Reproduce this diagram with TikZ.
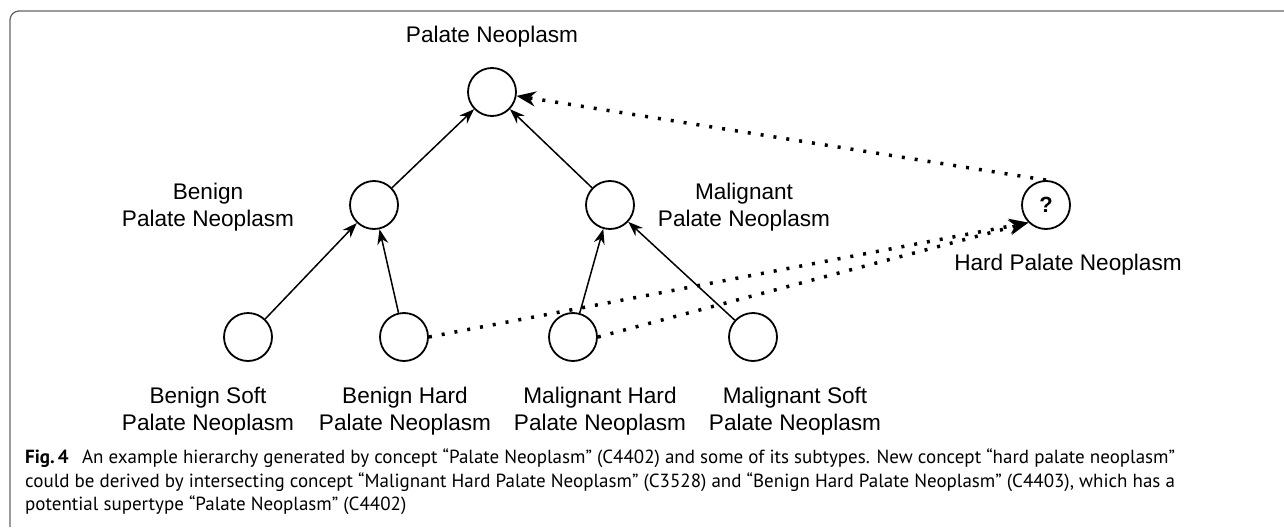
\documentclass[tikz,border=0pt]{standalone}
\usepackage{fontspec}
\setmainfont{Liberation Sans}
\newfontfamily\capfont{PT Sans}
\usetikzlibrary{arrows.meta}
\begin{document}
\begin{tikzpicture}[x=1pt,y=-1pt,
  concept/.style={circle, draw, line width=1.8pt, minimum size=48pt, inner sep=0pt},
  lbl/.style={font=\fontsize{22.6}{27}\selectfont, align=center, inner sep=0pt},
  isa/.style={line width=1.5pt, -{Stealth[length=15pt,width=11pt]}},
  cand/.style={line width=3.5pt, dash pattern=on 3pt off 10pt, -{Stealth[length=19pt,width=15pt]}},
  capline/.style={font=\capfont\fontsize{19}{23}\selectfont, anchor=base west, inner sep=0pt}]
\useasboundingbox (0,0) rectangle (1284,527);
% frame
\draw[line width=1.3pt, black!60, rounded corners=9pt] (10,527) -- (10,11) -- (1284,11);
% concepts
\node[concept] (P) at (492,92) {};
\node[concept] (B) at (374,205) {};
\node[concept] (M) at (610,205) {};
\node[concept, font=\bfseries\fontsize{22}{26}\selectfont] (Q) at (1046,205) {?};
\node[concept] (BS) at (248,337) {};
\node[concept] (BH) at (404,337) {};
\node[concept] (MH) at (573,337) {};
\node[concept] (MS) at (753,337) {};
% labels
\node[lbl] (lP) at (492,37) {Palate Neoplasm};
\node[lbl] (lB) at (208,207) {Benign\\Palate Neoplasm};
\node[lbl] (lM) at (744,207) {Malignant\\Palate Neoplasm};
\node[lbl] (lQ) at (1068,265) {Hard Palate Neoplasm};
\node[lbl] (lBS) at (208,411) {Benign Soft\\Palate Neoplasm};
\node[lbl] (lBH) at (405,411) {Benign Hard\\Palate Neoplasm};
\node[lbl] (lMH) at (600,411) {Malignant Hard\\Palate Neoplasm};
\node[lbl] (lMS) at (795,411) {Malignant Soft\\Palate Neoplasm};
% hierarchy
\draw[isa] (B) -- (P);
\draw[isa] (M) -- (P);
\draw[isa] (BS) -- (B);
\draw[isa] (BH) -- (B);
\draw[isa] (MH) -- (M);
\draw[isa] (MS) -- (M);
% candidate links
\draw[cand] (Q.north) -- (P);
\draw[cand] (BH.east) -- (Q.south west);
\draw[cand] (MH.east) -- (Q.south west);
% caption
\node[capline] (c1) at (25,463) {\textbf{Fig.\,4}\hspace{0.7em}An example hierarchy generated by concept “Palate Neoplasm” (C4402) and some of its subtypes. New concept “hard palate neoplasm”};
\node[capline] (c2) at (25,487) {could be derived by intersecting concept “Malignant Hard Palate Neoplasm” (C3528) and “Benign Hard Palate Neoplasm” (C4403), which has a};
\node[capline] (c3) at (25,510) {potential supertype “Palate Neoplasm” (C4402)};
\end{tikzpicture}
\end{document}
